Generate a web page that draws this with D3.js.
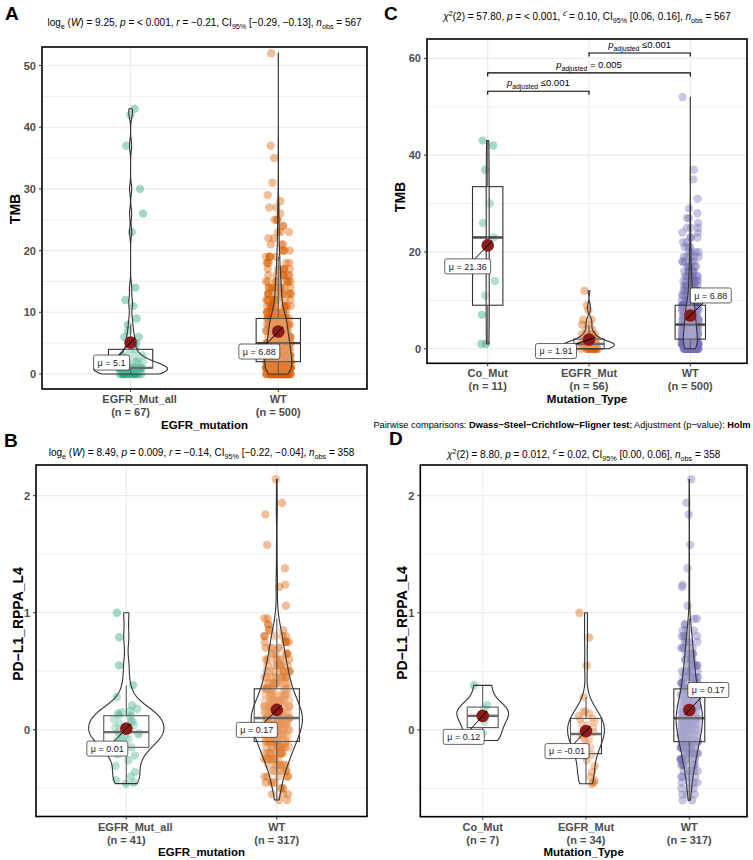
<!DOCTYPE html>
<html><head><meta charset="utf-8">
<script src="https://cdn.jsdelivr.net/npm/d3@7"></script>
<style>
body{margin:0;background:#fff}
svg{display:block}
text{font-family:"Liberation Sans",Arial,Helvetica,sans-serif}
</style>
</head><body>
<svg id="chart" width="753" height="860"></svg>
<script>
// ---------------- DATA ----------------
const catsEgfrMutation = ["EGFR_Mut_all", "WT"];
const catsMutationType = ["Co_Mut", "EGFR_Mut", "WT"];

// TMB values (integer valued)
const tmbCoMut = [43, 42, 37, 30, 26, 23, 14, 11, 7, 1, 1];
const tmbEgfrMutLevels = [0, 1, 2, 3, 4, 5, 6, 8, 9, 12];
const tmbEgfrMutCounts = [15, 20, 8, 4, 2, 2, 2, 1, 1, 1];
const tmbWtLevels = [0,1,2,3,4,5,6,7,8,9,10,11,12,13,14,15,16,17,18,19,20,21,22,23,24,25,26,27,28,29,31,35,37,52];
const tmbWtCounts = [46,51,45,40,38,40,32,29,30,30,16,13,12,10,10,9,7,6,5,5,4,3,2,3,2,3,1,2,1,1,1,1,1,1];

// PD-L1_RPPA_L4 values
const pdl1CoMut = [0.38, 0.21, 0.18, 0.12, 0.07, -0.03, -0.09];
const pdl1EgfrMut = [-0.46,-0.45,-0.43,-0.40,-0.36,-0.31,-0.26,-0.22,-0.21,-0.18,-0.15,-0.12,-0.10,-0.08,-0.06,-0.05,-0.04,-0.03,
                     -0.02,0.00,0.02,0.04,0.05,0.07,0.09,0.10,0.12,0.14,0.15,0.16,0.28,0.55,0.79,1.00];
const pdl1WtLevels = [-0.60,-0.55,-0.50,-0.45,-0.40,-0.35,-0.30,-0.25,-0.20,-0.15,-0.10,-0.05,0.00,0.05,0.10,0.15,0.20,0.25,0.30,0.35,0.40,0.45,0.50,0.55,0.60,0.65,0.70,0.75,0.80,0.85,0.90,0.95];
const pdl1WtCounts = [2,3,3,4,5,6,8,10,12,12,16,17,18,20,23,20,18,15,13,13,9,10,9,8,7,6,5,5,5,3,2,2];
const pdl1WtHigh = [1.06, 1.22, 1.24, 1.38, 1.58, 1.84, 1.94, 2.14];

// Means shown in the labels
const meansA = [5.1, 6.88];
const meansB = [0.01, 0.17];
const meansC = [21.36, 1.91, 6.88];
const meansD = [0.12, -0.01, 0.17];
const meanTextA = ["5.1", "6.88"];
const meanTextB = ["0.01", "0.17"];
const meanTextC = ["21.36", "1.91", "6.88"];
const meanTextD = ["0.12", "-0.01", "0.17"];

// Axis ticks
const yTicksTmbA = [0, 10, 20, 30, 40, 50];
const yMinorTmbA = [5, 15, 25, 35, 45];
const yTicksTmbC = [0, 20, 40, 60];
const yMinorTmbC = [10, 30, 50];
const yTicksPdl1 = [0, 1, 2];
const yMinorPdl1 = [-0.5, 0.5, 1.5];

// Pairwise comparisons (panel C)
const pairFrom = ["Co_Mut", "Co_Mut", "EGFR_Mut"];
const pairTo = ["EGFR_Mut", "WT", "WT"];
const pairY = [53.2, 57.0, 61.1];
const pairText = [" \u22640.001", " = 0.005", " \u22640.001"];

// Subtitles
const subtitleA = [["log",""],["e","sub"],[" (",""],["W","i"],[") = 9.25, ",""],["p","i"],[" = < 0.001, ",""],["r","i"],[" = \u22120.21, CI",""],["95%","sub"],[" [\u22120.29, \u22120.13], ",""],["n","i"],["obs","sub"],[" = 567",""]];
const subtitleB = [["log",""],["e","sub"],[" (",""],["W","i"],[") = 8.49, ",""],["p","i"],[" = 0.009, ",""],["r","i"],[" = \u22120.14, CI",""],["95%","sub"],[" [\u22120.22, \u22120.04], ",""],["n","i"],["obs","sub"],[" = 358",""]];
const subtitleC = [["\u03C7","i"],["2","sup"],["(2) = 57.80, ",""],["p","i"],[" = < 0.001,  ",""],["\u03B5\u0302","supi"],[" = 0.10, CI",""],["95%","sub"],[" [0.06, 0.16], ",""],["n","i"],["obs","sub"],[" = 567",""]];
const subtitleD = [["\u03C7","i"],["2","sup"],["(2) = 8.80, ",""],["p","i"],[" = 0.012,  ",""],["\u03B5\u0302","supi"],[" = 0.02, CI",""],["95%","sub"],[" [0.00, 0.06], ",""],["n","i"],["obs","sub"],[" = 358",""]];
const captionText = [["Pairwise comparisons: ",""],["Dwass\u2212Steel\u2212Crichtlow\u2212Fligner test","b"],["; Adjustment (p\u2212value): ",""],["Holm","b"]];

// ---------------- HELPERS ----------------
function expand(levels, counts) {
  const out = [];
  levels.forEach((v, i) => { for (let k = 0; k < counts[i]; k++) out.push(v); });
  return out;
}
const tmbEgfrMut = expand(tmbEgfrMutLevels, tmbEgfrMutCounts);
const tmbMutAll = tmbCoMut.concat(tmbEgfrMut);
const tmbWt = expand(tmbWtLevels, tmbWtCounts);
const pdl1Wt = expand(pdl1WtLevels, pdl1WtCounts).concat(pdl1WtHigh);
const pdl1MutAll = pdl1CoMut.concat(pdl1EgfrMut);

function density(vals) {
  const s = vals.slice().sort(d3.ascending);
  const n = s.length;
  const sd = d3.deviation(s);
  const iqr = d3.quantileSorted(s, 0.75) - d3.quantileSorted(s, 0.25);
  let lo = Math.min(sd, iqr / 1.34);
  if (!(lo > 0)) lo = sd > 0 ? sd : 1;
  const bw = 0.9 * lo * Math.pow(n, -0.2);
  const mn = s[0], mx = s[n - 1], m = 300;
  const pts = [];
  for (let j = 0; j < m; j++) {
    const yv = mn + (mx - mn) * j / (m - 1);
    let d = 0;
    for (const v of s) { const z = (yv - v) / bw; d += Math.exp(-0.5 * z * z); }
    pts.push([yv, d / (n * bw * Math.sqrt(2 * Math.PI))]);
  }
  return pts;
}
function boxStats(vals) {
  const s = vals.slice().sort(d3.ascending);
  const q1 = d3.quantileSorted(s, 0.25), med = d3.quantileSorted(s, 0.5), q3 = d3.quantileSorted(s, 0.75);
  const iqr = q3 - q1;
  const lo = d3.min(s.filter(v => v >= q1 - 1.5 * iqr));
  const hi = d3.max(s.filter(v => v <= q3 + 1.5 * iqr));
  return {q1, med, q3, lo, hi};
}
function rich(textSel, segs, size) {
  let shift = 0;
  segs.forEach(([t, st]) => {
    const ts = textSel.append("tspan").text(t);
    let target = 0, fs = size;
    if (st === "sub") { target = size * 0.3; fs = size * 0.72; }
    if (st === "sup" || st === "supi") { target = -size * 0.4; fs = size * 0.72; }
    ts.attr("dy", target - shift).attr("font-size", fs);
    shift = target;
    if (st === "i" || st === "supi") ts.attr("font-style", "italic");
    if (st === "b") ts.attr("font-weight", "bold");
  });
}

const teal = "#1B9E77", orange = "#D95F02", purple = "#7570B3";
const svg = d3.select("#chart");
svg.append("rect").attr("width", 753).attr("height", 860).attr("fill", "#fff");

const panels = [
  {letter: "A", letterPos: [5, 20], cats: catsEgfrMutation, groups: [tmbMutAll, tmbWt], colors: [teal, orange],
   means: meansA, meanText: meanTextA, frame: {x0: 42, x1: 367, y0: 47, y1: 389}, xr: [130.6, 278.3], yd: [-2.43, 53.0],
   ticks: yTicksTmbA, minor: yMinorTmbA, ylab: "TMB", ylabPos: [20, 209], xlab: "EGFR_mutation",
   subtitle: subtitleA, subY: 26, labelOff: [[-19, 20], [-19, 20]], seed: 11},
  {letter: "B", letterPos: [4, 447], cats: catsEgfrMutation, groups: [pdl1MutAll, pdl1Wt], colors: [teal, orange],
   means: meansB, meanText: meanTextB, frame: {x0: 36, x1: 367, y0: 465, y1: 816.5}, xr: [126.3, 276.8], yd: [-0.741, 2.262],
   ticks: yTicksPdl1, minor: yMinorPdl1, ylab: "PD\u2212L1_RPPA_L4", ylabPos: [23, 624], xlab: "EGFR_mutation",
   subtitle: subtitleB, subY: 456, labelOff: [[-19, 20], [-20, 20]], seed: 23},
  {letter: "C", letterPos: [384, 20], cats: catsMutationType, groups: [tmbCoMut, tmbEgfrMut, tmbWt], colors: [teal, orange, purple],
   means: meansC, meanText: meanTextC, frame: {x0: 427, x1: 747, y0: 39, y1: 363.3}, xr: [487.7, 690.3], yd: [-3.0, 64.0],
   ticks: yTicksTmbC, minor: yMinorTmbC, ylab: "TMB", ylabPos: [404.5, 197], xlab: "Mutation_Type",
   subtitle: subtitleC, subY: 20, labelOff: [[-20, 21], [-33, 11.5], [20.5, -20]], seed: 37},
  {letter: "D", letterPos: [389, 444.5], cats: catsMutationType, groups: [pdl1CoMut, pdl1EgfrMut, pdl1Wt], colors: [teal, orange, purple],
   means: meansD, meanText: meanTextD, frame: {x0: 420.3, x1: 747, y0: 465, y1: 816.7}, xr: [482.7, 689.3], yd: [-0.741, 2.262],
   ticks: yTicksPdl1, minor: yMinorPdl1, ylab: "PD\u2212L1_RPPA_L4", ylabPos: [406.5, 623], xlab: "Mutation_Type",
   subtitle: subtitleD, subY: 458, labelOff: [[-19, 21], [-19, 20], [19, -20]], seed: 53}
];
const firstLineDx = {"EGFR_Mut_all": 9};

function drawPanel(p, pi) {
  const g = svg.append("g");
  const f = p.frame;
  const x = d3.scalePoint().domain(p.cats).range(p.xr);
  const y = d3.scaleLinear().domain(p.yd).range([f.y1, f.y0]);
  const step = (p.xr[1] - p.xr[0]) / (p.cats.length - 1);

  // grid
  const grid = g.append("g").attr("stroke", "#EBEBEB");
  p.minor.forEach(v => grid.append("line").attr("x1", f.x0).attr("x2", f.x1).attr("y1", y(v)).attr("y2", y(v)).attr("stroke-width", 0.8));
  p.ticks.forEach(v => grid.append("line").attr("x1", f.x0).attr("x2", f.x1).attr("y1", y(v)).attr("y2", y(v)).attr("stroke-width", 1.1));
  p.cats.forEach(c => grid.append("line").attr("x1", x(c)).attr("x2", x(c)).attr("y1", f.y0).attr("y2", f.y1).attr("stroke-width", 1.1));

  // jittered points
  const jw = 0.085 * step;
  p.groups.forEach((vals, gi) => {
    const rnd = d3.randomUniform.source(d3.randomLcg((p.seed * 7 + gi * 13) / 1000))(-jw, jw);
    const cx = x(p.cats[gi]);
    g.append("g").selectAll("circle").data(vals).join("circle")
      .attr("cx", () => cx + rnd())
      .attr("cy", d => y(d))
      .attr("r", 4.2)
      .attr("fill", p.colors[gi])
      .attr("fill-opacity", 0.4);
  });

  // boxplots
  const bw = 0.3 * step;
  p.groups.forEach((vals, gi) => {
    const b = boxStats(vals);
    const cx = x(p.cats[gi]);
    const bg = g.append("g").attr("stroke", "#333").attr("fill", "none");
    bg.append("line").attr("x1", cx).attr("x2", cx).attr("y1", y(b.q3)).attr("y2", y(b.hi)).attr("stroke-width", 1.1);
    bg.append("line").attr("x1", cx).attr("x2", cx).attr("y1", y(b.q1)).attr("y2", y(b.lo)).attr("stroke-width", 1.1);
    bg.append("rect").attr("x", cx - bw / 2).attr("width", bw).attr("y", y(b.q3)).attr("height", Math.max(0.5, y(b.q1) - y(b.q3)))
      .attr("fill", "#fff").attr("fill-opacity", 0.2).attr("stroke-width", 1.1);
    bg.append("line").attr("x1", cx - bw / 2).attr("x2", cx + bw / 2).attr("y1", y(b.med)).attr("y2", y(b.med))
      .attr("stroke-width", 2.4).attr("stroke", "#444");
  });

  // violins (scale = "area")
  const dens = p.groups.map(density);
  const maxD = d3.max(dens, d => d3.max(d, e => e[1]));
  dens.forEach((d, gi) => {
    const cx = x(p.cats[gi]);
    const area = d3.area()
      .y(e => y(e[0]))
      .x0(e => cx - e[1] / maxD * 0.25 * step)
      .x1(e => cx + e[1] / maxD * 0.25 * step);
    g.append("path").attr("d", area(d)).attr("fill", "#fff").attr("fill-opacity", 0.2)
      .attr("stroke", "#333").attr("stroke-width", 1.1).attr("stroke-linejoin", "round");
  });

  // means
  p.means.forEach((m, gi) => {
    const cx = x(p.cats[gi]), cy = y(m);
    const [dx, dy] = p.labelOff[gi];
    const lx = cx + dx, ly = cy + dy;
    g.append("circle").attr("cx", cx).attr("cy", cy).attr("r", 6.3).attr("fill", "#8B1A1A");
    const len = Math.hypot(dx, dy);
    g.append("line").attr("x1", lx).attr("y1", ly).attr("x2", cx - dx / len * 6.5).attr("y2", cy - dy / len * 6.5)
      .attr("stroke", "#000").attr("stroke-width", 1);
    const lg = g.append("g");
    const rect = lg.append("rect");
    const t = lg.append("text").attr("x", lx).attr("y", ly + 3.3).attr("text-anchor", "middle")
      .attr("font-size", 9).attr("fill", "#222").text("\u03BC = " + p.meanText[gi]);
    const w = t.node().getComputedTextLength() + 8;
    rect.attr("x", lx - w / 2).attr("y", ly - 7.5).attr("width", w).attr("height", 15).attr("rx", 2)
      .attr("fill", "#fff").attr("stroke", "#222").attr("stroke-width", 0.7);
  });

  // frame
  g.append("rect").attr("x", f.x0).attr("y", f.y0).attr("width", f.x1 - f.x0).attr("height", f.y1 - f.y0)
    .attr("fill", "none").attr("stroke", "#000").attr("stroke-width", 1.6);

  // y axis
  p.ticks.forEach(v => {
    g.append("line").attr("x1", f.x0 - 3).attr("x2", f.x0).attr("y1", y(v)).attr("y2", y(v)).attr("stroke", "#333").attr("stroke-width", 1);
    g.append("text").attr("x", f.x0 - 6).attr("y", y(v) + 4).attr("text-anchor", "end").attr("font-size", 11)
      .attr("font-weight", "bold").attr("fill", "#4D4D4D").text(String(v));
  });
  g.append("text").attr("transform", `translate(${p.ylabPos[0]},${p.ylabPos[1]}) rotate(-90)`)
    .attr("text-anchor", "middle").attr("font-size", 14).attr("font-weight", "bold").attr("fill", "#000").text(p.ylab);

  // x axis
  p.cats.forEach((c, gi) => {
    const cx = x(c);
    g.append("line").attr("x1", cx).attr("x2", cx).attr("y1", f.y1).attr("y2", f.y1 + 3).attr("stroke", "#333").attr("stroke-width", 1);
    g.append("text").attr("x", cx + (firstLineDx[c] || 0)).attr("y", f.y1 + 14).attr("text-anchor", "middle").attr("font-size", 11)
      .attr("font-weight", "bold").attr("fill", "#4D4D4D").text(c);
    g.append("text").attr("x", cx).attr("y", f.y1 + 27).attr("text-anchor", "middle").attr("font-size", 11)
      .attr("font-weight", "bold").attr("fill", "#4D4D4D").text("(n = " + p.groups[gi].length + ")");
  });
  g.append("text").attr("x", (f.x0 + f.x1) / 2).attr("y", f.y1 + 39.5).attr("text-anchor", "middle")
    .attr("font-size", 11.5).attr("font-weight", "bold").attr("fill", "#000").text(p.xlab);

  // subtitle & letter
  const st = g.append("text").attr("x", (f.x0 + f.x1) / 2).attr("y", p.subY).attr("text-anchor", "middle").attr("fill", "#000");
  rich(st, p.subtitle, 10);
  g.append("text").attr("x", p.letterPos[0]).attr("y", p.letterPos[1]).attr("font-size", 19).attr("font-weight", "bold")
    .attr("fill", "#000").text(p.letter);

  return {x, y, f};
}

const drawn = panels.map(drawPanel);

// pairwise brackets in panel C
(function () {
  const {x, y} = drawn[2];
  const g = svg.append("g");
  pairFrom.forEach((a, i) => {
    const xa = x(a), xb = x(pairTo[i]), yy = y(pairY[i]);
    g.append("path").attr("d", `M${xa},${yy + 3.5}V${yy}H${xb}V${yy + 3.5}`).attr("fill", "none")
      .attr("stroke", "#000").attr("stroke-width", 1.1);
    const t = g.append("text").attr("x", (xa + xb) / 2).attr("y", yy - 5).attr("text-anchor", "middle").attr("fill", "#000");
    rich(t, [["p", "i"], ["adjusted", "sub"], [pairText[i], ""]], 9.5);
  });
})();

// caption
const cap = svg.append("text").attr("x", 562).attr("y", 427.5).attr("text-anchor", "middle").attr("fill", "#000");
rich(cap, captionText, 9.3);
</script>
</body></html>
